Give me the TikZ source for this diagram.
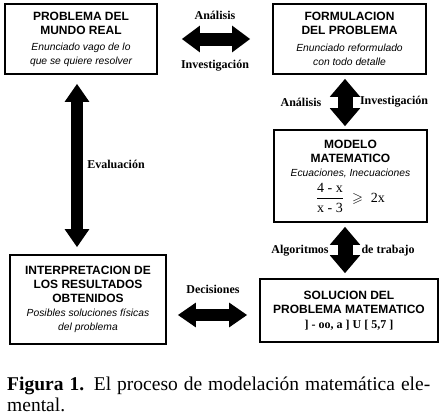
\documentclass[tikz,border=0pt]{standalone}
\usepackage{amsmath,amssymb}
\usepackage{fontspec}
\setmainfont{Liberation Serif}
\newfontfamily\boxfont{Liberation Sans}
\usetikzlibrary{arrows.meta}

\newcommand{\ttlfont}{\boxfont\bfseries\fontsize{12}{14}\selectfont}
\newcommand{\subfont}{\boxfont\mdseries\itshape\fontsize{10.3}{13.5}\selectfont}
\tikzset{
  box/.style={draw, line width=1.6pt, inner sep=2pt, align=center, font=\ttlfont},
  dblarrow/.style={line width=#1, {Triangle[length=18pt,width=0pt 1.95]}-{Triangle[length=18pt,width=0pt 1.95]}},
  lbl/.style={font=\fontsize{12}{14}\selectfont\bfseries, inner sep=0pt},
  capline/.style={anchor=base west, inner sep=0pt, font=\fontsize{19.5}{21}\selectfont},
}

\begin{document}
\begin{tikzpicture}[x=1pt,y=-1pt]
			\useasboundingbox (0,0) rectangle (444,415);

			\node[box, minimum width=152pt, minimum height=70pt] (real) at (81,39)
				{PROBLEMA DEL\\MUNDO REAL\\[2pt]\subfont Enunciado vago de lo\\\subfont que se quiere resolver};
			\node[box, minimum width=153pt, minimum height=70pt] (form) at (349.5,39)
				{FORMULACION\\DEL PROBLEMA\\[3pt]\subfont Enunciado reformulado\\\subfont con todo detalle};
			\node[box, minimum width=153pt, minimum height=92pt] (model) at (350.5,176)
				{MODELO\\MATEMATICO\\\subfont Ecuaciones, Inecuaciones\\[5pt]
				\rmfamily\mdseries\fontsize{14}{16}\selectfont $\dfrac{\text{4 - x}}{\text{x - 3}}\;\geqslant\;\text{2x}$};
			\node[box, minimum width=178pt, minimum height=63pt] (sol) at (349,310.5)
				{SOLUCION DEL\\PROBLEMA MATEMATICO\\[1pt]\rmfamily\bfseries ] - oo, a ] U [ 5,7 ]};
			\node[box, minimum width=156pt, minimum height=89pt] (interp) at (88,299.5)
				{INTERPRETACION DE\\LOS RESULTADOS\\OBTENIDOS\\\subfont Posibles soluciones f\'isicas\\\subfont del problema};

			\draw[dblarrow=13pt, shorten <=24pt, shorten >=22pt] (real.east) to
				node[lbl, yshift=24pt] {Análisis} node[lbl, yshift=-27pt] {Investigación} (form.west);
			\draw[dblarrow=15pt, shorten <=4pt, shorten >=3pt] ([xshift=-4.5pt]form.south) to
				node[lbl, xshift=-44pt] {Análisis} node[lbl, xshift=49pt] {Investigación} ([xshift=-4.5pt]form.south |- model.north);
			\draw[dblarrow=15pt, shorten <=4pt, shorten >=5pt] ([xshift=-5.5pt]model.south) to
				node[lbl, xshift=-45pt] {Algoritmos} node[lbl, xshift=43pt] {de trabajo} ([xshift=-5.5pt]model.south |- sol.north);
			\draw[dblarrow=12pt, shorten <=9pt, shorten >=7pt] ([xshift=-4pt]real.south) to
				node[lbl, xshift=39pt] {Evaluación} ([xshift=-4pt]real.south |- interp.north);
			\draw[dblarrow=12pt, shorten <=11pt, shorten >=12pt] ([yshift=-15.5pt]interp.east) to
				node[lbl, yshift=26pt] {Decisiones} ([yshift=-15.5pt]interp.east -| sol.west);

			\node[capline] (cap1) at (7,390) {\makebox[423pt][s]{\textbf{Figura 1.} El proceso de modelación matemática ele-}};
			\node[capline] (cap2) at (7,411) {mental.};
		\end{tikzpicture}
\end{document}
